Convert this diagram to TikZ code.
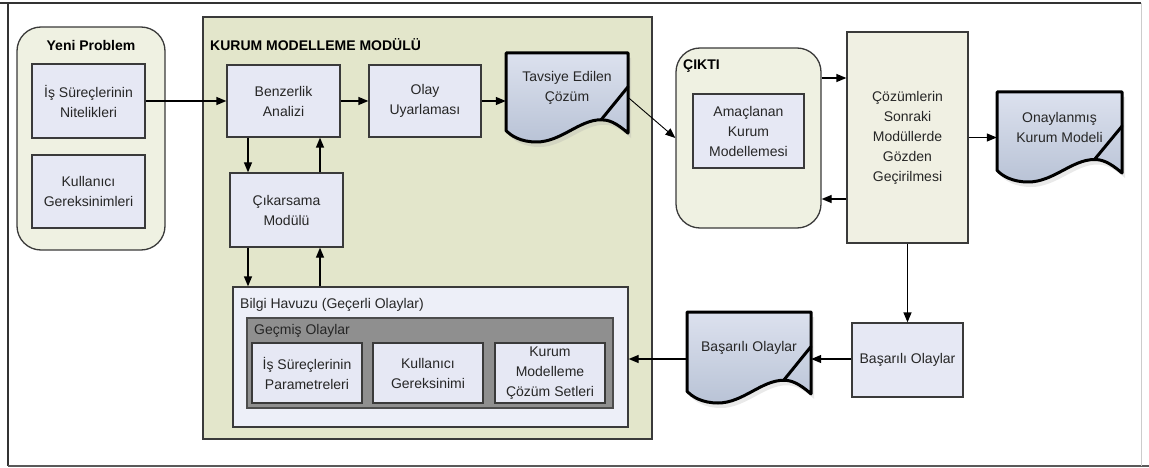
\documentclass[tikz,border=0pt]{standalone}
\usepackage{fontspec}
\setmainfont{Liberation Sans}
\usetikzlibrary{arrows.meta,calc}

\definecolor{edge}{HTML}{3A3A3A}
\definecolor{txt}{HTML}{262626}
\definecolor{procfill}{HTML}{E6E8F4}
\definecolor{modfill}{HTML}{E3E6CB}
\definecolor{groupfill}{HTML}{EFF1E2}
\definecolor{reviewfill}{HTML}{F0F0E3}
\definecolor{poolfill}{HTML}{EDEFF8}
\definecolor{pastfill}{HTML}{8F8F8F}
\definecolor{doctop}{HTML}{DCE1EE}
\definecolor{docbot}{HTML}{B9C3D6}

\tikzset{
  every node/.style={font=\fontsize{14}{20}\selectfont, text=txt},
  proc/.style={draw=edge, line width=1.3pt, fill=procfill, align=center, inner sep=0pt},
  module/.style={draw=edge, line width=1.3pt, fill=modfill, inner sep=0pt},
  group/.style={draw=edge, line width=1.3pt, fill=groupfill, rounded corners=24pt, inner sep=0pt},
  review/.style={draw=edge, line width=1.3pt, fill=reviewfill, align=center, inner sep=0pt},
  pool/.style={draw=edge, line width=1.3pt, fill=poolfill, inner sep=0pt},
  past/.style={draw=black!70, line width=1.3pt, fill=pastfill, inner sep=0pt},
  title/.style={font=\fontsize{14}{20}\selectfont\bfseries, text=black, inner sep=0pt},
  caption/.style={inner sep=0pt, anchor=west},
  docbox/.style={inner sep=0pt, draw=none},
  docline/.style={draw=black, line width=3pt, line join=round, top color=doctop, bottom color=docbot},
  docshadow/.style={fill=black!35, opacity=0.25, draw=none},
  doctext/.style={align=center, inner sep=0pt},
  arr/.style={draw=black, line width=1.3pt, -{Triangle[length=10pt,width=8pt]}},
  thin arr/.style={draw=black, line width=0.9pt, -{Triangle[length=10pt,width=8pt]}},
}

% document symbol: name, left, top, width, height, text
\newcommand\docnode[6]{%
  \node[docbox, minimum width=#4, minimum height=#5] (#1) at ({#2+#4/2},{#3+#5/2}) {};
  \fill[docshadow, xshift=3pt, yshift=-5pt]
    (#2,#3) -- ({#2+#4},#3) -- ({#2+#4},{#3+0.9*#5})
    .. controls ({#2+0.9*#4},{#3+0.78*#5}) and ({#2+0.84*#4},{#3+0.75*#5}) .. ({#2+0.78*#4},{#3+0.75*#5})
    .. controls ({#2+0.6*#4},{#3+0.75*#5}) and ({#2+0.45*#4},{#3+1.0*#5}) .. ({#2+0.25*#4},{#3+#5})
    .. controls ({#2+0.12*#4},{#3+1.0*#5}) and ({#2+0.04*#4},{#3+0.93*#5}) .. (#2,{#3+0.87*#5}) -- cycle;
  \path[docline]
    (#2,#3) -- ({#2+#4},#3) -- ({#2+#4},{#3+0.9*#5})
    .. controls ({#2+0.9*#4},{#3+0.78*#5}) and ({#2+0.84*#4},{#3+0.75*#5}) .. ({#2+0.78*#4},{#3+0.75*#5})
    .. controls ({#2+0.6*#4},{#3+0.75*#5}) and ({#2+0.45*#4},{#3+1.0*#5}) .. ({#2+0.25*#4},{#3+#5})
    .. controls ({#2+0.12*#4},{#3+1.0*#5}) and ({#2+0.04*#4},{#3+0.93*#5}) .. (#2,{#3+0.87*#5}) -- cycle;
  \draw[black, line width=3pt, line cap=round] ({#2+0.78*#4},{#3+0.75*#5}) -- ({#2+#4},{#3+0.38*#5});
  \node[doctext] (#1-text) at ({#2+#4/2},{#3+#5/2-10}) {#6};
}

\begin{document}
\begin{tikzpicture}[x=1pt,y=-1pt]
\useasboundingbox (0,0) rectangle (1149,468);

% outer frame
\draw[black!80, line width=1.5pt] (0,3) -- (1141,3);
\draw[black!80, line width=1.5pt] (8,3) -- (8,466);
\draw[black!65, line width=1.5pt] (8,466) -- (1149,466);
\draw[black!20, line width=1pt] (1141,3) -- (1141,466);

% containers
\node[group, minimum width=148, minimum height=223] (yeni) at (91,138.5) {};
\node[title] (yeni-title) at (91,45) {Yeni Problem};

\node[module, minimum width=449, minimum height=422] (kmm) at (427.5,228) {};
\node[title, anchor=west] (kmm-title) at (210,45) {KURUM MODELLEME MODÜLÜ};

\node[group, minimum width=145, minimum height=180] (cikti) at (748.5,138) {};
\node[title, anchor=west] (cikti-title) at (683,66) {ÇIKTI};

\node[pool, minimum width=395, minimum height=140] (bilgi) at (430.5,357) {};
\node[caption] (bilgi-title) at (240,305) {Bilgi Havuzu (Geçerli Olaylar)};
\node[past, minimum width=366, minimum height=90] (gecmis) at (430,363) {};
\node[caption] (gecmis-title) at (254,331) {Geçmiş Olaylar};

% process boxes
\node[proc, minimum width=113, minimum height=74] (isn) at (88.5,101) {İş Süreçlerinin\\Nitelikleri};
\node[proc, minimum width=113, minimum height=73] (kul) at (88.5,191.5) {Kullanıcı\\Gereksinimleri};
\node[proc, minimum width=113, minimum height=72] (benz) at (283.5,101) {Benzerlik\\Analizi};
\node[proc, minimum width=112, minimum height=72] (olay) at (425,101) {Olay\\Uyarlaması};
\node[proc, minimum width=113, minimum height=74] (cikar) at (286.5,210) {Çıkarsama\\Modülü};
\node[proc, minimum width=110, minimum height=60] (par) at (307,373) {İş Süreçlerinin\\Parametreleri};
\node[proc, minimum width=110, minimum height=60] (ger) at (428,373) {Kullanıcı\\Gereksinimi};
\node[proc, minimum width=110, minimum height=60] (set) at (550,373) {Kurum\\Modelleme\\Çözüm Setleri};
\node[proc, minimum width=111, minimum height=74] (amac) at (748.5,131) {Amaçlanan\\Kurum\\Modellemesi};
\node[review, minimum width=121, minimum height=211] (cozum) at (907.5,137.5) {Çözümlerin\\Sonraki\\Modüllerde\\Gözden\\Geçirilmesi};
\node[proc, minimum width=111, minimum height=74] (basbox) at (907.5,360) {Başarılı Olaylar};

% documents
\docnode{tav}{506}{53}{122}{89}{Tavsiye Edilen\\Çözüm}
\docnode{onay}{997}{92}{125}{90}{Onaylanmış\\Kurum Modeli}
\docnode{basdoc}{687}{312}{124}{91}{Başarılı Olaylar}

% connectors
\draw[arr] (isn.east) -- (benz.west);
\draw[arr] (benz.east) -- (olay.west);
\draw[arr] (olay.east) -- (tav.west |- olay.east);
\draw[thin arr] (tav.east) -- (cikti.west);

\draw[arr] ([xshift=-35.5pt]benz.south) -- ([xshift=-35.5pt]benz.south |- cikar.north);
\draw[arr] ([xshift=33.5pt]cikar.north) -- ([xshift=33.5pt]cikar.north |- benz.south);
\draw[arr] ([xshift=-38.5pt]cikar.south) -- ([xshift=-38.5pt]cikar.south |- bilgi.north);
\draw[arr] ([xshift=33.5pt]cikar.south |- bilgi.north) -- ([xshift=33.5pt]cikar.south);

\draw[arr] ([yshift=60pt]cikti.east) -- ([yshift=60pt]cikti.east -| cozum.west);
\draw[arr] ([yshift=-61pt]cikti.east -| cozum.west) -- ([yshift=-61pt]cikti.east);
\draw[arr] (cozum.east) -- (cozum.east -| onay.west);
\draw[arr] (cozum.south) -- (basbox.north);
\draw[arr] ([yshift=1pt]basbox.west) -- ([yshift=1pt]basbox.west -| basdoc.east);
\draw[arr] ([yshift=1pt]basbox.west -| basdoc.west) -- ([yshift=1pt]basbox.west -| bilgi.east);
\end{tikzpicture}
\end{document}
